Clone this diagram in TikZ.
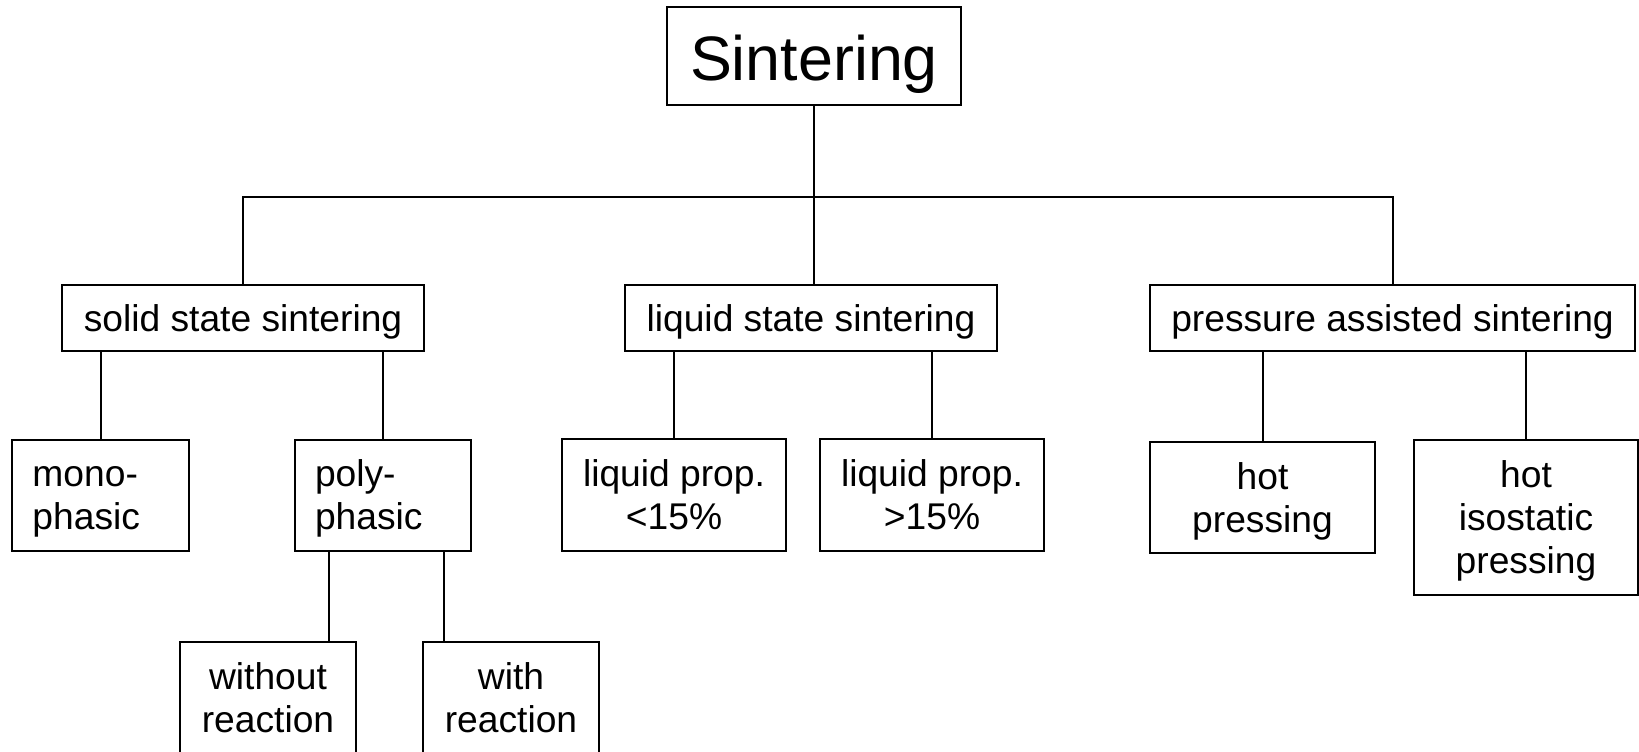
\documentclass[tikz,border=0pt]{standalone}
\usepackage{fontspec}
\setmainfont{Liberation Sans}
\begin{document}
\begin{tikzpicture}[x=0.5pt,y=-0.5pt,
  box/.style={draw, line width=1pt, inner sep=0pt, align=center,
    font=\fontsize{18.6}{21.4}\selectfont, text height=13pt, text depth=0pt},
  twolines/.style={text height=13pt, text depth=22pt},
  ctwo/.style={text height=34.5pt, text depth=0pt},
  cthree/.style={text height=56pt, text depth=0pt},
  lbox/.style={box, align=left, inner xsep=10pt, text width=68pt},
  link/.style={line width=1pt}]
\clip (0,0) rectangle (1639,751);

% root
\node[box, minimum width=147pt, minimum height=49pt,
      font=\fontsize{31.4}{36}\selectfont, text height=24pt, text depth=0pt] (S) at (814,56) {Sintering};

% level 1
\node[box, minimum width=181pt, minimum height=33pt] (solid) at (243,318) {solid state sintering};
\node[box, minimum width=186pt, minimum height=33pt] (liquid) at (811,318) {liquid state sintering};
\node[box, minimum width=242.5pt, minimum height=33pt] (pressure) at (1392.5,318) {pressure assisted sintering};

% level 2
\node[lbox, twolines, minimum width=88.5pt, minimum height=55.5pt] (mono) at (100.5,495.5) {mono-\\phasic};
\node[lbox, twolines, minimum width=88pt, minimum height=55.5pt] (poly) at (383,495.5) {poly-\\phasic};
\node[box, ctwo, minimum width=112pt, minimum height=56pt] (lt) at (674,495) {liquid prop.\\<15\%};
\node[box, ctwo, minimum width=112pt, minimum height=56pt] (gt) at (932,495) {liquid prop.\\>15\%};
\node[box, ctwo, minimum width=112.5pt, minimum height=55.5pt] (hot) at (1262.5,497.5) {hot\\pressing};
\node[box, cthree, minimum width=112pt, minimum height=77.5pt] (hip) at (1526,517.5) {hot\\isostatic\\pressing};

% level 3
\node[box, ctwo, minimum width=88pt, minimum height=55.5pt] (without) at (268,697.5) {without\\reaction};
\node[box, ctwo, minimum width=88pt, minimum height=55.5pt] (with) at (511,697.5) {with\\reaction};

% connectors
\coordinate (bus) at (814,197);
\draw[link] (S.south) -- (S.south |- liquid.north);
\draw[link] (solid.north) -- (solid.north |- bus) -- (pressure.north |- bus) -- (pressure.north);

\draw[link] (mono.north |- solid.south) -- (mono.north);
\draw[link] (poly.north |- solid.south) -- (poly.north);
\draw[link] ([xshift=-27pt]poly.south) -- ([xshift=-27pt]poly.south |- without.north);
\draw[link] ([xshift=30.5pt]poly.south) -- ([xshift=30.5pt]poly.south |- with.north);

\draw[link] (lt.north |- liquid.south) -- (lt.north);
\draw[link] (gt.north |- liquid.south) -- (gt.north);

\draw[link] (hot.north |- pressure.south) -- (hot.north);
\draw[link] (hip.north |- pressure.south) -- (hip.north);
\end{tikzpicture}
\end{document}
